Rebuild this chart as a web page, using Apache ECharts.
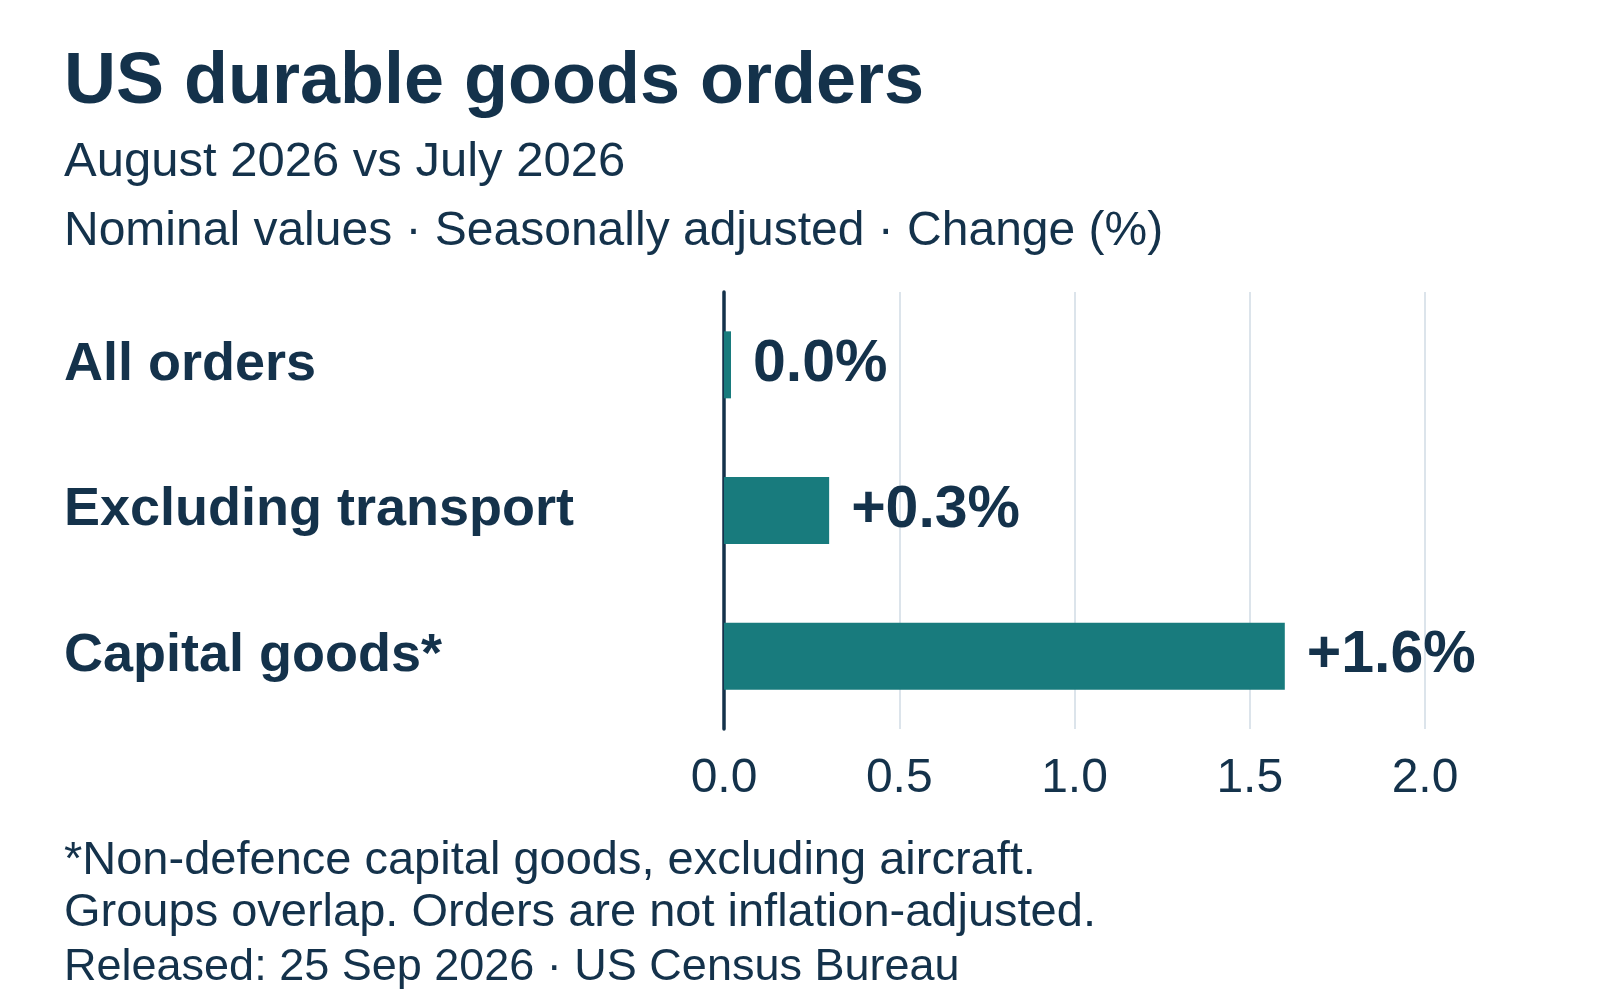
<!DOCTYPE html>
<html>
	<head>
		<meta charset="utf-8">
		<script src="https://cdn.jsdelivr.net/npm/echarts@6/dist/echarts.min.js"></script>
		<title>US durable goods orders</title>
		<style>
			html, body { margin: 0; padding: 0; background: #fff; }
		</style>
	</head>
	<body>
		<div id="main" style="width: 1600px;height:1000px;"></div>
		<script type="text/javascript">
			// categories, top to bottom
			var categories = ['All orders', 'Excluding transport', 'Capital goods*'];
			// change (%) August vs July 2026
			var changes = [0.0, 0.3, 1.6];
			var tickValues = [0, 0.5, 1.0, 1.5, 2.0];

			var titleText = 'US durable goods orders';
			var subLines = ['August 2026 vs July 2026', 'Nominal values · Seasonally adjusted · Change (%)'];
			var footLines = [
				'*Non-defence capital goods, excluding aircraft.',
				'Groups overlap. Orders are not inflation-adjusted.',
				'Released: 25 Sep 2026 · US Census Bureau'
			];

			var navy = '#14324b';
			var teal = '#187b7d';
			var font = '"Liberation Sans", Arial, sans-serif';

			function fmtChange(v) {
				return (v > 0 ? '+' : '') + v.toFixed(1) + '%';
			}

			var myChart = echarts.init(document.getElementById('main'));

			// title block + footnotes, left aligned with the category labels
			var titles = [{
				text: titleText, left: 59, top: 42,
				textStyle: { color: navy, fontSize: 72, fontWeight: 'bold', fontFamily: font }
			}];
			var subTops = [133, 203];
			var subSizes = [49, 48];
			subLines.forEach(function (s, i) {
				titles.push({ text: s, left: 59, top: subTops[i],
					textStyle: { color: navy, fontSize: subSizes[i], fontWeight: 'normal', fontFamily: font } });
			});
			var footTops = [833, 885, 940];
			var footSizes = [47, 47, 45];
			footLines.forEach(function (s, i) {
				titles.push({ text: s, left: 59, top: footTops[i],
					textStyle: { color: navy, fontSize: footSizes[i], fontWeight: 'normal', fontFamily: font } });
			});

			myChart.setOption({
				backgroundColor: '#fff',
				animation: false,
				title: titles,
				grid: { left: 724, right: 175, top: 292, bottom: 271, containLabel: false },
				xAxis: {
					type: 'value',
					min: 0,
					max: 2,
					interval: 0.5,
					axisLine: { show: false },
					axisTick: { show: false },
					splitLine: { show: true, lineStyle: { color: '#dce4eb', width: 2 } },
					axisLabel: {
						color: navy, fontSize: 48, fontFamily: font, margin: 26,
						formatter: function (v) { return tickValues.indexOf(v) >= 0 ? v.toFixed(1) : ''; }
					}
				},
				yAxis: {
					type: 'category',
					inverse: true,
					data: categories,
					axisLine: { show: true, lineStyle: { color: navy, width: 3.5 } },
					axisTick: { show: false },
					axisLabel: {
						align: 'left', margin: 660, color: navy, fontSize: 54, fontWeight: 'bold',
						fontFamily: font, padding: [0, 0, 12, 0]
					}
				},
				series: [{
					type: 'bar',
					data: changes,
					barWidth: 67,
					barMinHeight: 7,
					itemStyle: { color: teal },
					label: {
						show: true,
						position: 'right',
						distance: 22,
						color: navy,
						fontSize: 59,
						fontWeight: 'bold',
						fontFamily: font,
						formatter: function (p) { return fmtChange(p.value); }
					}
				}]
			});
		</script>
	</body>
</html>
